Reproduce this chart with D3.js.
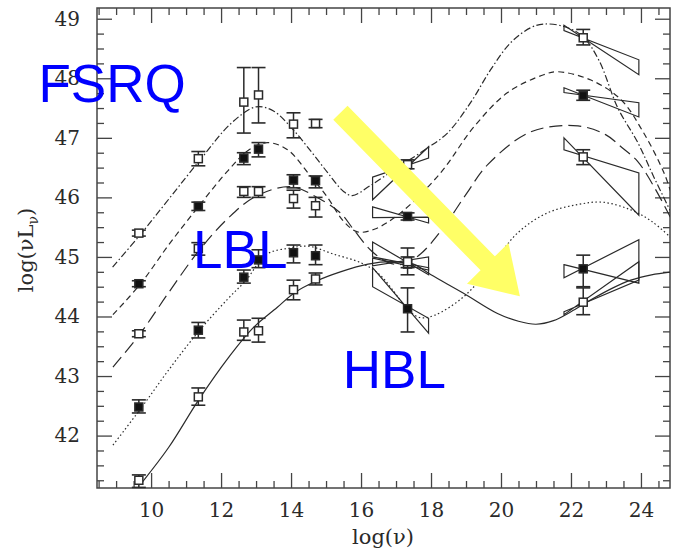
<!DOCTYPE html>
<html><head><meta charset="utf-8">
<script src="https://cdn.jsdelivr.net/npm/d3@7"></script>
<style>body{margin:0;background:#fff}svg{display:block}</style>
</head><body>
<svg id="c" width="673" height="557"></svg>
<script>
// ---------- data ----------
const freqs = [9.65, 11.35, 12.65, 13.07, 14.07, 14.7, 17.33, 22.35];
const bin1 = [45.4, 46.65, 47.6, 47.72, 47.23, 47.24, 46.55, 48.68];
const bin1Lo = [45.35, 46.53, 47.08, 47.25, 47.0, 47.17, 46.48, 48.56];
const bin1Hi = [45.45, 46.77, 48.18, 48.18, 47.42, 47.31, 46.63, 48.82];
const bin2 = [44.55, 45.85, 46.66, 46.81, 46.29, 46.28, 45.68, 47.71];
const bin2Lo = [44.5, 45.78, 46.55, 46.68, 46.16, 46.16, 45.62, 47.63];
const bin2Hi = [44.6, 45.92, 46.75, 46.92, 46.38, 46.36, 45.74, 47.8];
const bin3 = [43.71, 45.14, 46.1, 46.1, 45.98, 45.86, 44.88, 46.68];
const bin3Lo = [43.66, 45.03, 46.0, 46.0, 45.82, 45.67, 44.7, 46.55];
const bin3Hi = [43.76, 45.24, 46.18, 46.18, 46.12, 46.0, 45.15, 46.8];
const bin4 = [42.48, 43.77, 44.66, 44.95, 45.07, 45.02, 44.13, 44.8];
const bin4Lo = [42.38, 43.64, 44.56, 44.82, 44.9, 44.87, 43.74, 44.5];
const bin4Hi = [42.6, 43.9, 44.78, 45.12, 45.2, 45.2, 44.48, 45.03];
const bin5 = [41.25, 42.65, 43.74, 43.76, 44.45, 44.63, 44.92, 44.24];
const bin5Lo = [41.13, 42.51, 43.6, 43.57, 44.28, 44.53, 44.82, 44.03];
const bin5Hi = [41.34, 42.8, 43.94, 43.97, 44.61, 44.73, 45.0, 44.48];
const binOpen = [true, false, true, false, true];

// bowties: [leftTop, leftBottom, rightTop, rightBottom]
const xrayRange = [16.33, 17.93];
const gammaRange = [21.8, 23.94];
const xrayBow = [[46.34, 45.96, 46.85, 46.66], [45.84, 45.66, 45.67, 45.57], [45.25, 45.0, 44.82, 44.7], [44.82, 44.5, 43.97, 43.72], [44.98, 44.85, 45.0, 44.78]];
const gammaBow = [[48.89, 48.80, 48.31, 48.06], [47.84, 47.76, 47.59, 47.35], [47.0, 46.8, 46.41, 45.7], [44.87, 44.65, 45.29, 44.56], [44.08, 44.03, 44.92, 44.61]];

// model curves
const curve1 = [[8.9,44.83],[9.7,45.38],[11.36,46.6],[12.3,47.25],[13.0,47.52],[13.5,47.45],[14.07,47.13],[14.6,46.75],[15.04,46.42],[15.5,46.1],[15.75,46.03],[16.27,46.2],[17.04,46.5],[17.9,46.83],[18.47,47.08],[19.13,47.59],[19.7,48.14],[20.28,48.6],[20.85,48.85],[21.22,48.91],[21.8,48.87],[22.34,48.7],[22.8,48.3],[23.34,47.5],[23.91,46.92],[24.37,46.34],[24.9,45.7]];
const curve2 = [[8.91,44.03],[9.7,44.55],[10.5,45.2],[11.36,45.85],[12.2,46.45],[12.8,46.8],[13.32,46.92],[13.9,46.8],[14.5,46.4],[15.04,46.0],[15.5,45.6],[15.9,45.42],[16.4,45.47],[17.13,45.74],[18.27,46.41],[19.22,47.18],[20.19,47.76],[21.22,48.06],[21.62,48.11],[22.57,47.97],[23.43,47.64],[24.08,47.08],[24.66,46.41],[24.9,46.0]];
const curve3 = [[8.91,43.15],[9.7,43.72],[10.5,44.4],[11.36,45.1],[12.2,45.65],[13.0,46.02],[14.0,46.18],[14.8,45.98],[15.41,45.74],[15.8,45.45],[16.3,45.1],[16.8,44.9],[17.2,44.88],[17.7,45.05],[18.3,45.45],[19.0,46.05],[19.62,46.55],[20.85,47.1],[22.2,47.2],[23.0,47.05],[23.43,46.85],[23.91,46.6],[24.4,46.15],[24.9,45.6]];
const curve4 = [[8.91,41.84],[9.7,42.45],[10.5,43.1],[11.36,43.75],[12.2,44.3],[12.7,44.6],[13.32,45.05],[14.0,45.15],[14.5,45.18],[15.2,45.05],[16.0,44.9],[16.5,44.72],[16.9,44.45],[17.33,44.12],[17.7,43.98],[18.1,44.02],[18.93,44.33],[19.7,44.83],[20.47,45.4],[21.33,45.74],[22.2,45.88],[22.9,45.92],[23.71,45.79],[24.3,45.6],[24.9,45.3]];
const curve5 = [[9.75,41.22],[10.5,41.8],[11.36,42.6],[12.2,43.3],[12.9,43.8],[13.6,44.15],[14.1,44.4],[14.74,44.6],[15.41,44.75],[16.2,44.88],[16.9,44.92],[17.5,44.88],[18.0,44.7],[18.93,44.39],[19.9,44.05],[20.5,43.92],[21.0,43.87],[21.5,43.93],[22.0,44.08],[22.57,44.28],[23.2,44.48],[23.71,44.61],[24.3,44.7],[24.9,44.75]];
const curveDash = ["7,2.5,1.5,2.5", "6,4", "13,6", "1.5,2.5", null];

const xMajor = [10, 12, 14, 16, 18, 20, 22, 24];
const yMajor = [42, 43, 44, 45, 46, 47, 48, 49];
const labels = [{t: "FSRQ", x: 6.78, y: 47.6}, {t: "LBL", x: 11.2, y: 44.81}, {t: "HBL", x: 15.48, y: 42.8}];
const arrowStart = [15.41, 47.42], arrowEnd = [20.54, 44.34];

// ---------- drawing ----------
const svg = d3.select("#c");
const L = 97, R = 670, T = 8, B = 488;
const x = d3.scaleLinear().domain([8.454, 24.83]).range([L, R]);
const y = d3.scaleLinear().domain([41.12, 49.18]).range([B, T]);
const ink = "#2a2a2a";

svg.append("defs").append("clipPath").attr("id", "clip")
  .append("rect").attr("x", L).attr("y", T).attr("width", R - L).attr("height", B - T);

const minorX = d3.range(8.5, 24.9, 0.5).filter(v => !xMajor.includes(v));
const minorY = d3.range(41.25, 49.1, 0.25).filter(v => !yMajor.includes(v));
const fontTick = "DejaVu Serif";

function styleAxis(g) {
  g.select(".domain").remove();
  g.selectAll(".tick line").attr("stroke", "#444").attr("stroke-width", 1.3);
  g.selectAll("text").attr("font-family", fontTick).attr("font-size", 20).attr("fill", "#2a2a2a");
}
// bottom
svg.append("g").attr("transform", `translate(0,${B})`)
  .call(d3.axisBottom(x).tickValues(xMajor).tickSize(-15).tickPadding(15).tickFormat(d3.format("d"))).call(styleAxis);
svg.append("g").attr("transform", `translate(0,${B})`)
  .call(d3.axisBottom(x).tickValues(minorX).tickSize(-7).tickFormat("")).call(styleAxis);
// top
svg.append("g").attr("transform", `translate(0,${T})`)
  .call(d3.axisTop(x).tickValues(xMajor).tickSize(-15).tickFormat("")).call(styleAxis);
svg.append("g").attr("transform", `translate(0,${T})`)
  .call(d3.axisTop(x).tickValues(minorX).tickSize(-7).tickFormat("")).call(styleAxis);
// left
svg.append("g").attr("transform", `translate(${L},0)`)
  .call(d3.axisLeft(y).tickValues(yMajor).tickSize(-15).tickPadding(17).tickFormat(d3.format("d"))).call(styleAxis);
svg.append("g").attr("transform", `translate(${L},0)`)
  .call(d3.axisLeft(y).tickValues(minorY).tickSize(-7).tickFormat("")).call(styleAxis);
// right
svg.append("g").attr("transform", `translate(${R},0)`)
  .call(d3.axisRight(y).tickValues(yMajor).tickSize(-15).tickFormat("")).call(styleAxis);
svg.append("g").attr("transform", `translate(${R},0)`)
  .call(d3.axisRight(y).tickValues(minorY).tickSize(-7).tickFormat("")).call(styleAxis);

svg.append("rect").attr("x", L).attr("y", T).attr("width", R - L).attr("height", B - T)
  .attr("fill", "none").attr("stroke", "#444").attr("stroke-width", 1.5);

// axis titles
const yt = svg.append("text").attr("transform", "translate(33,250) rotate(-90)")
  .attr("text-anchor", "middle").attr("font-family", fontTick).attr("font-size", 21).attr("fill", "#2a2a2a");
yt.append("tspan").text("log(νL");
yt.append("tspan").attr("font-size", 14).attr("dy", 5).text("ν");
yt.append("tspan").attr("dy", -5).text(")");
svg.append("text").attr("x", 383).attr("y", 544).attr("text-anchor", "middle")
  .attr("font-family", fontTick).attr("font-size", 21).attr("fill", "#2a2a2a").text("log(ν)");

// curves
const plot = svg.append("g").attr("clip-path", "url(#clip)");
const line = d3.line().x(d => x(d[0])).y(d => y(d[1])).curve(d3.curveCatmullRom.alpha(0.5));
[curve1, curve2, curve3, curve4, curve5].forEach((c, i) => {
  plot.append("path").attr("d", line(c)).attr("fill", "none").attr("stroke", ink)
    .attr("stroke-width", 1.2).attr("stroke-dasharray", curveDash[i]);
});

// bowties
function bow(range, v) {
  const [xl, xr] = range;
  return [[x(xl), y(v[0])], [x(xr), y(v[3])], [x(xr), y(v[2])], [x(xl), y(v[1])]];
}
const bowG = plot.append("g");
[xrayBow, gammaBow].forEach((set, k) => {
  set.forEach(v => {
    bowG.append("polygon").attr("points", bow(k === 0 ? xrayRange : gammaRange, v).map(p => p.join(",")).join(" "))
      .attr("fill", "none").attr("stroke", ink).attr("stroke-width", 1.2);
  });
});

// data points
const bins = [[bin1, bin1Lo, bin1Hi], [bin2, bin2Lo, bin2Hi], [bin3, bin3Lo, bin3Hi], [bin4, bin4Lo, bin4Hi], [bin5, bin5Lo, bin5Hi]];
const ptG = svg.append("g");
bins.forEach(([v, lo, hi], b) => {
  freqs.forEach((f, i) => {
    const px = x(f);
    ptG.append("line").attr("x1", px).attr("x2", px).attr("y1", y(lo[i])).attr("y2", y(hi[i]))
      .attr("stroke", ink).attr("stroke-width", 1.5);
    [lo[i], hi[i]].forEach(e => ptG.append("line").attr("x1", px - 7).attr("x2", px + 7)
      .attr("y1", y(e)).attr("y2", y(e)).attr("stroke", ink).attr("stroke-width", 1.6));
    ptG.append("rect").attr("x", px - 4).attr("y", y(v[i]) - 4).attr("width", 8).attr("height", 8)
      .attr("fill", binOpen[b] ? "#fff" : "#111").attr("stroke", ink).attr("stroke-width", 1.5);
  });
});

// arrow
const p0 = [x(arrowStart[0]), y(arrowStart[1])], p1 = [x(arrowEnd[0]), y(arrowEnd[1])];
const dx = p1[0] - p0[0], dy = p1[1] - p0[1], len = Math.hypot(dx, dy);
const u = [dx / len, dy / len], n = [-u[1], u[0]];
const sw = 10, hl = 46, hw = 29;
const bx = [p1[0] - u[0] * hl, p1[1] - u[1] * hl];
const arrowPts = [
  [p0[0] + n[0] * sw, p0[1] + n[1] * sw], [bx[0] + n[0] * sw, bx[1] + n[1] * sw],
  [bx[0] + n[0] * hw, bx[1] + n[1] * hw], p1,
  [bx[0] - n[0] * hw, bx[1] - n[1] * hw], [bx[0] - n[0] * sw, bx[1] - n[1] * sw],
  [p0[0] - n[0] * sw, p0[1] - n[1] * sw]];
svg.append("polygon").attr("points", arrowPts.map(p => p.join(",")).join(" ")).attr("fill", "#ffff66");

// labels
labels.forEach(l => svg.append("text").attr("x", x(l.x)).attr("y", y(l.y))
  .attr("font-family", "Liberation Sans, Arial, sans-serif").attr("font-size", 53).attr("fill", "#0000ff").text(l.t));
</script>
</body></html>
